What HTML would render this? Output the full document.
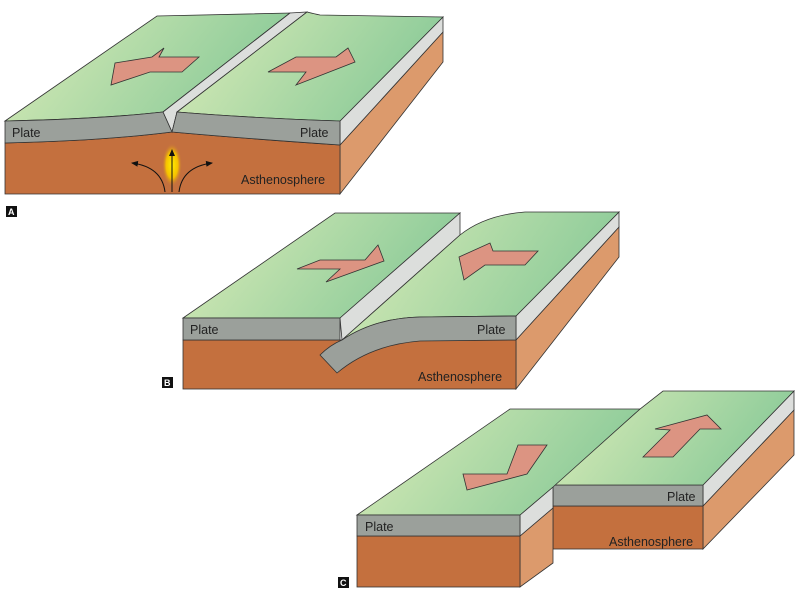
<!DOCTYPE html>
<html><head><meta charset="utf-8"><style>
html,body{margin:0;padding:0;background:#fff;}
svg{display:block;}
text{font-family:"Liberation Sans",sans-serif;font-size:12.5px;fill:#222;}
.g{fill:url(#grn);stroke:#333;stroke-width:0.8;}
.gr{fill:#9ba09b;stroke:#333;stroke-width:0.8;}
.lg{fill:#dcdedc;stroke:#333;stroke-width:0.8;}
.br{fill:#c4703e;stroke:#333;stroke-width:0.8;}
.bs{fill:#dc9a6c;stroke:#333;stroke-width:0.8;}
.ar{fill:#dc9482;stroke:#333;stroke-width:0.8;}
.lb{font-weight:bold;font-size:9px;fill:#fff;}
</style></head><body>
<svg width="800" height="600" viewBox="0 0 800 600" xmlns="http://www.w3.org/2000/svg">
<defs>
<linearGradient id="grn" x1="0" y1="0" x2="1" y2="0.3">
<stop offset="0" stop-color="#dbecb8"/><stop offset="1" stop-color="#8ccb99"/>
</linearGradient>
<radialGradient id="glow" cx="0.5" cy="0.5" r="0.5">
<stop offset="0" stop-color="#ffee00"/><stop offset="0.6" stop-color="#f5c000"/><stop offset="1" stop-color="#c4703e" stop-opacity="0"/>
</radialGradient>
<marker id="ah" markerWidth="8" markerHeight="8" refX="6" refY="4" orient="auto" markerUnits="userSpaceOnUse">
<path d="M0,1 L7,4 L0,7 Z" fill="#111"/></marker>
</defs>

<!-- A -->
<polygon class="bs" points="340,145 443,32 443,62 340,194"/>
<polygon class="lg" points="340,121 443,17 443,32 340,145"/>
<path class="br" d="M5,143 Q100,141 172,132 Q250,139 340,145 L340,194 L5,194 Z"/>
<ellipse cx="172" cy="165" rx="10" ry="22" fill="url(#glow)"/>
<path class="g" d="M5,121 Q100,119 163,112 L290,13 L157,16 Z"/>
<polygon class="lg" points="163,112 290,13 307,12 177,112 172,132"/>
<path class="g" d="M177,112 L307,12 Q315,14 320,15 L443,17 L340,121 Q250,118 177,112 Z"/>
<path class="gr" d="M5,121 Q100,119 163,112 L172,132 Q100,141 5,143 Z"/>
<path class="gr" d="M177,112 Q250,118 340,121 L340,145 Q250,139 172,132 Z"/>
<polygon class="ar" points="111,85 115,63 152,57 164,48 159,57 199,57 182,72 150,72"/>
<polygon class="ar" points="268,72 296,57 336,57 348,48 355,62 296,85 306,72"/>
<line x1="172" y1="192" x2="172" y2="150" stroke="#111" stroke-width="1" marker-end="url(#ah)"/>
<path d="M165,192 Q162,167 132,163" fill="none" stroke="#111" stroke-width="1" marker-end="url(#ah)"/>
<path d="M179,192 Q182,167 212,163" fill="none" stroke="#111" stroke-width="1" marker-end="url(#ah)"/>
<text x="12" y="137">Plate</text>
<text x="300" y="137">Plate</text>
<text x="241" y="184">Asthenosphere</text>
<rect x="6" y="206" width="11" height="11" fill="#111"/><text class="lb" x="8" y="215">A</text>

<!-- B -->
<polygon class="bs" points="516,340 619,227 619,257 516,389"/>
<polygon class="lg" points="516,316 619,212 619,227 516,340"/>
<rect class="br" x="183" y="340" width="333" height="49"/>
<polygon class="g" points="183,318 340,318 460,213 335,213"/>
<polygon class="lg" points="340,318 460,213 460,235 342,340"/>
<path class="g" d="M342,340 L460,235 Q485,215 525,212 L619,212 L516,316 L420,317 Q375,318 342,340 Z"/>
<rect class="gr" x="183" y="318" width="157" height="22"/>
<path class="gr" d="M342,340 Q375,318 420,317 L516,316 L516,340 L420,341 Q370,345 337,373 L320,355 Q330,345 342,340 Z"/>
<polygon class="ar" points="297,269 320,260 365,260 378,245 384,261 326,282 340,269"/>
<polygon class="ar" points="459,257 490,243 493,251 538,251 525,265 485,265 464,280"/>
<text x="190" y="334">Plate</text>
<text x="477" y="334">Plate</text>
<text x="418" y="381">Asthenosphere</text>
<rect x="162" y="377" width="11" height="11" fill="#111"/><text class="lb" x="164" y="386">B</text>

<!-- C -->
<polygon class="bs" points="703,506 794,410 794,455 703,549"/>
<polygon class="lg" points="703,485 794,391 794,410 703,506"/>
<rect class="br" x="553" y="506" width="150" height="43"/>
<rect class="gr" x="553" y="485" width="150" height="21"/>
<polygon class="g" points="553,485 703,485 794,391 663,391 640,409"/>
<polygon class="bs" points="520,536 553,508 553,563 520,587"/>
<polygon class="lg" points="520,515 553,487 553,508 520,536"/>
<polygon class="g" points="357,515 520,515 553,487 640,409 510,409"/>
<rect class="br" x="357" y="536" width="163" height="51"/>
<rect class="gr" x="357" y="515" width="163" height="21"/>
<polygon class="ar" points="518,445 547,445 527,474 467,490 463,474 507,474"/>
<polygon class="ar" points="643,457 670,430 655,429 707,415 721,429 700,429 673,457"/>
<text x="365" y="531">Plate</text>
<text x="667" y="501">Plate</text>
<text x="609" y="546">Asthenosphere</text>
<rect x="338" y="577" width="11" height="11" fill="#111"/><text class="lb" x="340" y="586">C</text>
</svg>
</body></html>
